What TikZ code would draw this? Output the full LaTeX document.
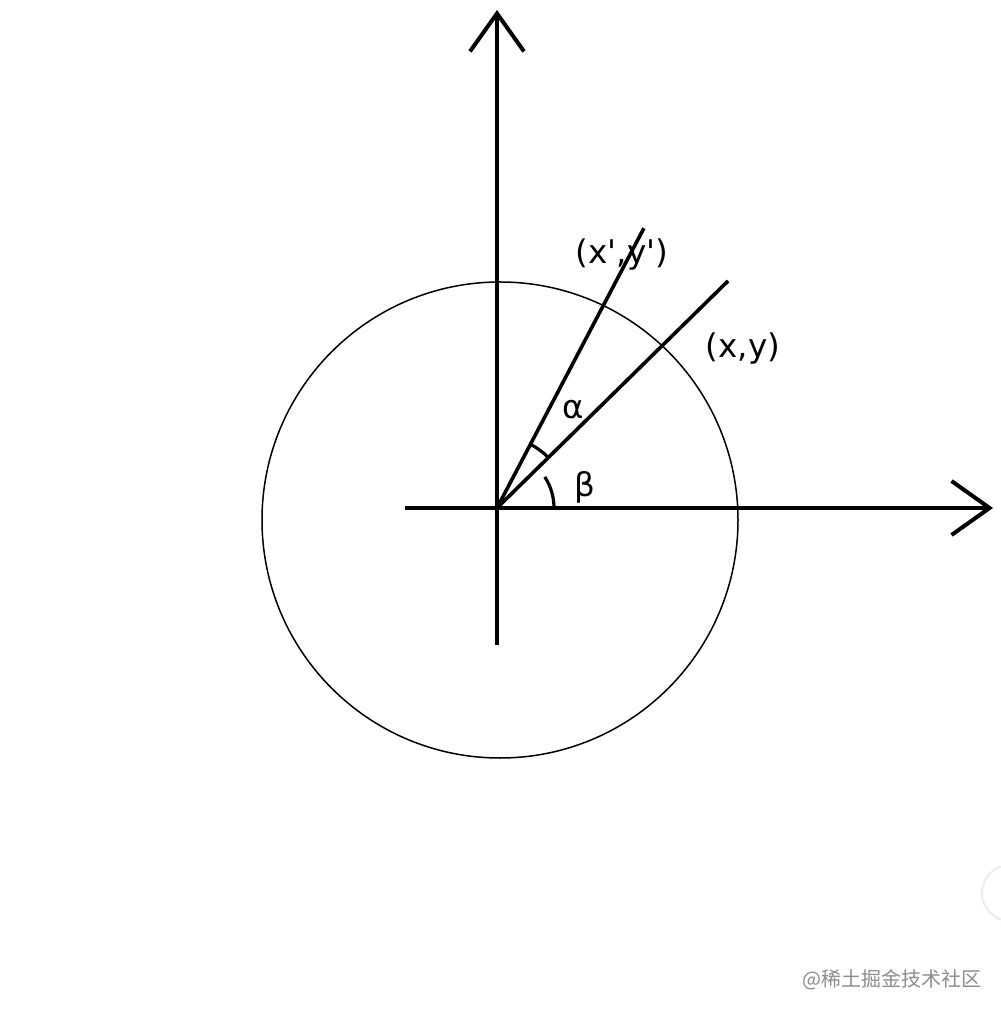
\documentclass[tikz,border=0pt]{standalone}
\usepackage{fontspec}
\setmainfont{DejaVu Sans}
\newfontfamily\cjkfont{Noto Sans CJK SC}
\usetikzlibrary{arrows.meta}
\usetikzlibrary{positioning}

\tikzset{
  axis/.style={line width=2pt, -{Straight Barb[length=19pt, width=27pt]}},
  ray/.style={line width=1.8pt},
  anglemark/.style={line width=1.6pt},
  lbl/.style={font=\fontsize{16.3}{19}\selectfont},
}

\begin{document}
\begin{tikzpicture}[x=0.5pt, y=0.5pt]
\useasboundingbox (-497,-508) rectangle (503,508);

% Origin and axis ends
\coordinate (O) at (0,0);
\coordinate (xneg) at (-92,0);
\coordinate (xpos) at (496,0);
\coordinate (yneg) at (0,-137);
\coordinate (ypos) at (0,498);

% Axes
\draw [axis] (xneg) -- (xpos);
\draw [axis] (yneg) -- (ypos);

% Circle
\coordinate (C) at (3,-12);
\draw [line width=0.75pt] (C) circle[radius=238];

% Rays to the two points
\coordinate (P) at (44.5:324);
\coordinate (Q) at (62.3:316);
\draw [ray] (O) -- (P);
\draw [ray] (O) -- (Q);
\fill (O) circle[radius=3];

% Angle marks
\draw [anglemark] (O) ++(44.5:72) arc[start angle=44.5, end angle=62.3, radius=72];
\draw [anglemark] (O) ++(0:57) arc[start angle=0, end angle=33, radius=57];

% Labels
\node [lbl] (pxy) at (246,159) {(x,y)};
\node [lbl] (qxy) at (125,253) {(x\textquotesingle,y\textquotesingle)};
\node [lbl] (alpha) at (76,98) {α};
\node [lbl] (beta) at (88,21) {β};

% Page corner
\draw [black!7, line width=1pt, fill=white] (513,-385) circle[radius=28];
\node [font=\cjkfont\fontsize{10}{12}\selectfont, text=black!45] (mark) at (395,-472) {@稀土掘金技术社区};

\end{tikzpicture}
\end{document}
